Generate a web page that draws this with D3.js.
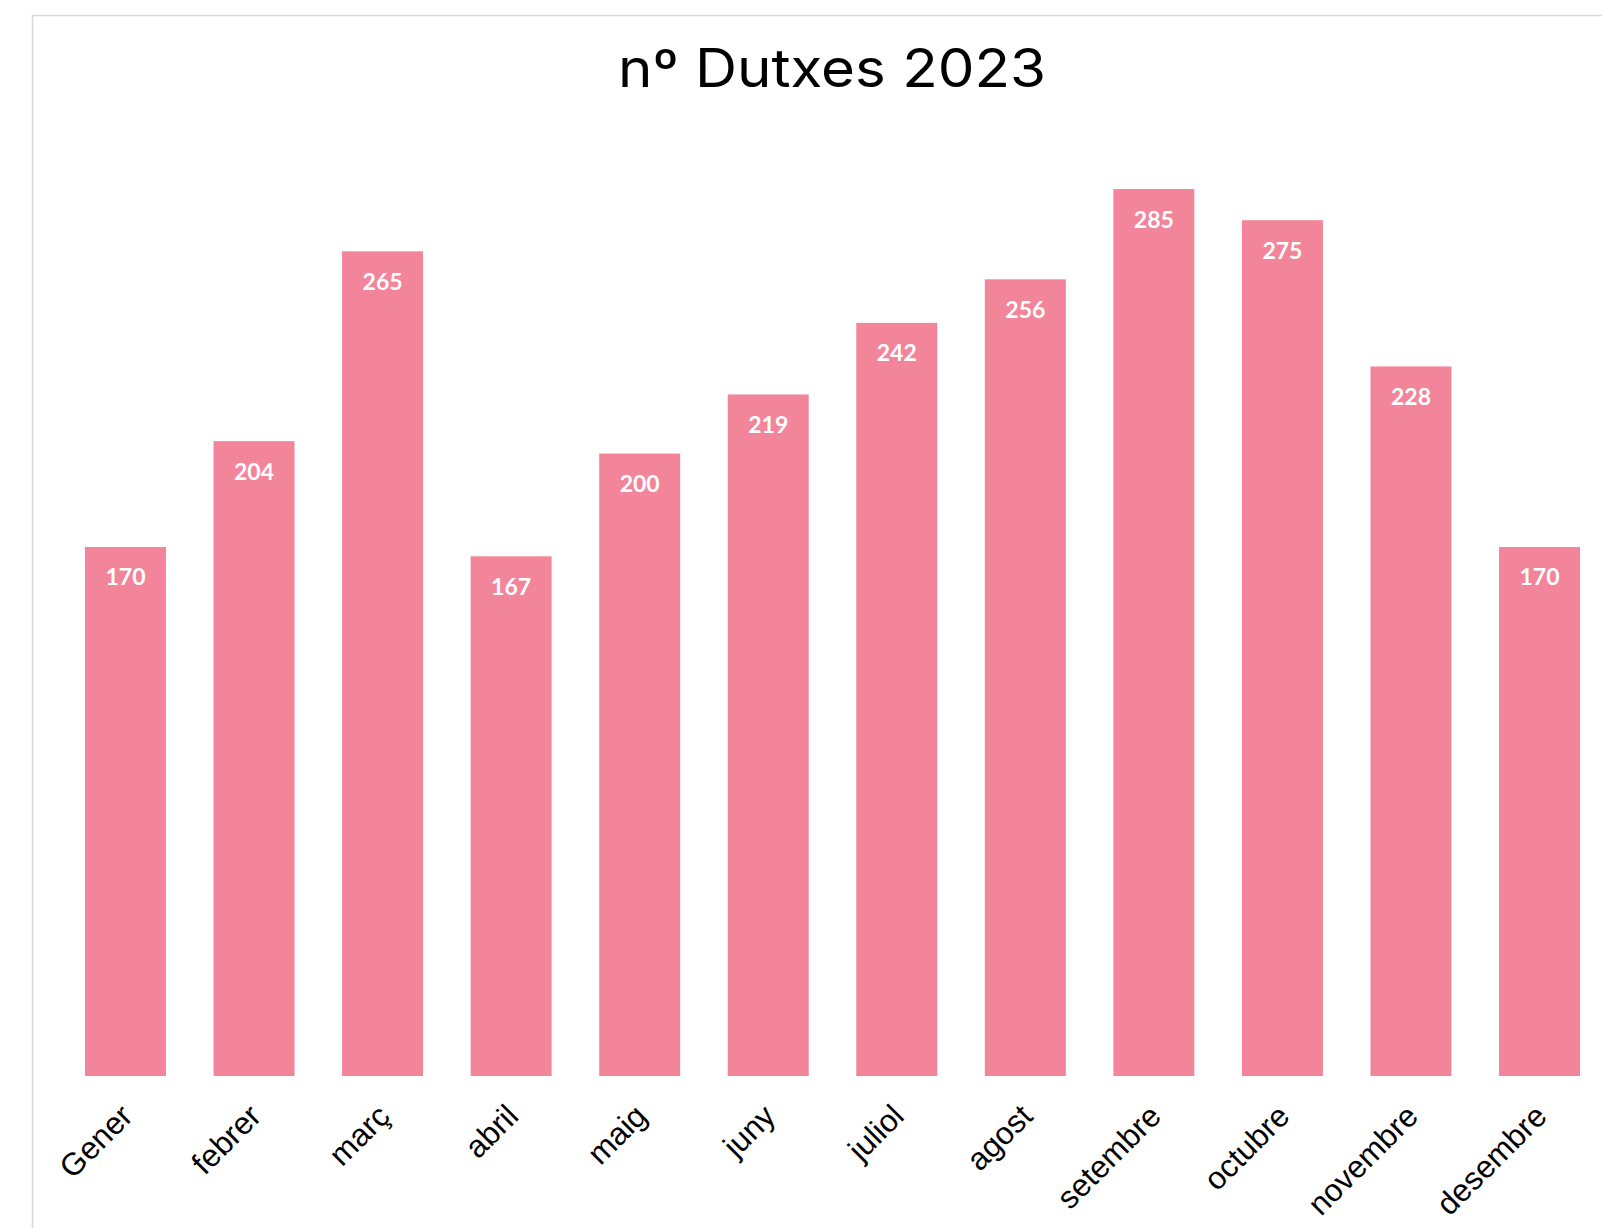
<!DOCTYPE html>
<html>
<head>
<meta charset="utf-8">
<script src="https://cdn.jsdelivr.net/npm/d3@7"></script>
<style>
  html, body { margin: 0; padding: 0; background: #fff; }
  svg { display: block; }
</style>
</head>
<body>
<div id="chart"></div>
<script>
// dades: dutxes per mes
const months = ['Gener', 'febrer', 'març', 'abril', 'maig', 'juny', 'juliol', 'agost', 'setembre', 'octubre', 'novembre', 'desembre'];
const showers = [170, 204, 265, 167, 200, 219, 242, 256, 285, 275, 228, 170];
const title = 'nº Dutxes 2023';

const width = 1602;
const height = 1228;
const barColor = '#f2859a';

const svg = d3.select('#chart').append('svg')
  .attr('width', width)
  .attr('height', height);

// marc de l'àrea del gràfic
svg.append('rect')
  .attr('x', 32.5)
  .attr('y', 15.5)
  .attr('width', 1600)
  .attr('height', 1400)
  .attr('fill', 'none')
  .attr('stroke', '#d9d9d9')
  .attr('stroke-width', 1.6);

const x = d3.scaleBand()
  .domain(months)
  .range([61.2, 1603.8])
  .paddingInner(0.37)
  .paddingOuter(0.185);

const y = d3.scaleLinear()
  .domain([0, 300])
  .range([1076, 142.4]);

// títol (una mica eixamplat, la font original és més ampla)
svg.append('text')
  .attr('x', 832)
  .attr('y', 87)
  .attr('text-anchor', 'middle')
  .attr('font-family', 'Inter, "Noto Sans", sans-serif')
  .attr('font-size', 53)
  .attr('textLength', 428)
  .attr('lengthAdjust', 'spacingAndGlyphs')
  .attr('fill', '#000')
  .text(title);

const data = months.map((m, i) => ({ month: m, value: showers[i] }));

const bars = svg.append('g').attr('class', 'bars')
  .selectAll('g')
  .data(data)
  .join('g');

bars.append('rect')
  .attr('x', d => x(d.month))
  .attr('y', d => y(d.value))
  .attr('width', x.bandwidth())
  .attr('height', d => y(0) - y(d.value))
  .attr('fill', barColor);

bars.append('text')
  .attr('x', d => x(d.month) + x.bandwidth() / 2)
  .attr('y', d => y(d.value) + 38.5)
  .attr('text-anchor', 'middle')
  .attr('font-family', 'Lato, "Open Sans", sans-serif')
  .attr('font-weight', 700)
  .attr('font-size', 23)
  .attr('fill', '#fff')
  .text(d => d.value);

// etiquetes de l'eix x, girades
svg.append('g').attr('class', 'x-labels')
  .selectAll('text')
  .data(months)
  .join('text')
  .attr('transform', d => `translate(${x(d) + x.bandwidth() / 2 + 9},${1118}) rotate(-45)`)
  .attr('text-anchor', 'end')
  .attr('font-family', '"Liberation Sans", Arial, sans-serif')
  .attr('font-size', 31.5)
  .attr('fill', '#000')
  .text(d => d);
</script>
</body>
</html>
